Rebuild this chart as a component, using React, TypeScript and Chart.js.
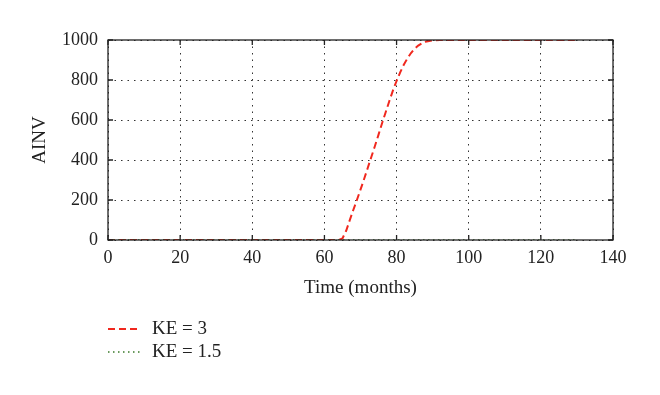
import React, { useEffect, useRef } from "react";
import { Chart, registerables } from "chart.js";

Chart.register(...registerables);

// Time axis (months) and AINV values for KE = 3
const timeKE3 = [0, 20, 40, 60, 64, 65, 66, 67, 68, 69, 70, 71, 72, 73, 74, 75, 76, 77, 78, 79, 80, 81, 82, 83, 84, 85, 86, 87, 88, 89, 90, 92, 100, 110, 120, 130];
const ainvKE3 = [0, 0, 0, 0, 0, 8, 45, 98, 150, 200, 252, 305, 360, 415, 470, 527, 585, 640, 695, 748, 795, 838, 876, 908, 935, 956, 972, 983, 991, 995, 998, 1000, 1000, 1000, 1000, 1000];

// AINV values for KE = 1.5
const timeKE15 = [0, 20, 40, 60, 80, 100, 120, 130];
const ainvKE15 = [0, 0, 0, 0, 0, 0, 0, 0];

const xTicks = [0, 20, 40, 60, 80, 100, 120, 140];
const yTicks = [0, 200, 400, 600, 800, 1000];

const seriesLabels = ["KE = 3", "KE = 1.5"];

const FONT = "'Liberation Serif', 'DejaVu Serif', serif";

const boxPlugin = {
  id: "boxAndTicks",
  afterDraw(chart: any) {
    const { ctx, chartArea: a, scales } = chart;
    ctx.save();
    ctx.strokeStyle = "#222";
    ctx.lineWidth = 1.3;
    ctx.setLineDash([]);
    ctx.strokeRect(a.left, a.top, a.right - a.left, a.bottom - a.top);
    const tl = 5;
    ctx.beginPath();
    xTicks.forEach((v) => {
      const x = scales.x.getPixelForValue(v);
      ctx.moveTo(x, a.bottom);
      ctx.lineTo(x, a.bottom - tl);
      ctx.moveTo(x, a.top);
      ctx.lineTo(x, a.top + tl);
    });
    yTicks.forEach((v) => {
      const y = scales.y.getPixelForValue(v);
      ctx.moveTo(a.left, y);
      ctx.lineTo(a.left + tl, y);
      ctx.moveTo(a.right, y);
      ctx.lineTo(a.right - tl, y);
    });
    ctx.stroke();

    // legend
    const lx = a.left;
    const rows = [329, 352];
    chart.data.datasets.forEach((ds: any, i: number) => {
      const y = rows[i];
      ctx.beginPath();
      ctx.strokeStyle = ds.borderColor;
      ctx.lineWidth = ds.borderWidth;
      ctx.setLineDash(ds.borderDash || []);
      ctx.moveTo(lx, y);
      ctx.lineTo(lx + 33, y);
      ctx.stroke();
      ctx.setLineDash([]);
      ctx.fillStyle = "#222";
      ctx.font = `19px ${FONT}`;
      ctx.textBaseline = "middle";
      ctx.textAlign = "left";
      ctx.fillText(ds.label, lx + 44, y);
    });
    ctx.restore();
  },
};

export default function App() {
  const ref = useRef<HTMLCanvasElement>(null);
  useEffect(() => {
    if (!ref.current) return;
    const chart = new Chart(ref.current, {
      type: "line",
      data: {
        datasets: [
          {
            label: seriesLabels[0],
            data: timeKE3.map((t, i) => ({ x: t, y: ainvKE3[i] })),
            borderColor: "#f0281e",
            borderWidth: 2,
            borderDash: [7, 4],
            pointRadius: 0,
            tension: 0,
            fill: false,
            order: 1,
          },
          {
            label: seriesLabels[1],
            data: timeKE15.map((t, i) => ({ x: t, y: ainvKE15[i] })),
            borderColor: "#3a7a2a",
            borderWidth: 1.5,
            borderDash: [1.5, 3.5],
            pointRadius: 0,
            tension: 0,
            fill: false,
            order: 0,
          },
        ],
      },
      options: {
        animation: false,
        responsive: false,
        maintainAspectRatio: false,
        layout: { padding: { left: 0, right: 47, top: 40, bottom: 95 } },
        plugins: { legend: { display: false }, tooltip: { enabled: false } },
        scales: {
          x: {
            type: "linear",
            min: 0,
            max: 140,
            afterFit: (s: any) => {
              s.height = 60;
            },
            afterBuildTicks: (s: any) => {
              s.ticks = xTicks.map((v) => ({ value: v }));
            },
            ticks: {
              padding: 7,
              color: "#222",
              font: { family: FONT, size: 18 },
              maxRotation: 0,
              callback: (v: any) => String(v),
            },
            grid: {
              drawTicks: false,
              color: "#333",
              lineWidth: 1,
            },
            border: { display: false, dash: [1.5, 5] },
            title: {
              display: true,
              text: "Time (months)",
              color: "#222",
              font: { family: FONT, size: 19 },
              padding: { top: 0, bottom: 1 },
            },
          },
          y: {
            type: "linear",
            min: 0,
            max: 1000,
            afterFit: (s: any) => {
              s.width = 108;
            },
            afterBuildTicks: (s: any) => {
              s.ticks = yTicks.map((v) => ({ value: v }));
            },
            ticks: {
              padding: 10,
              color: "#222",
              font: { family: FONT, size: 18 },
              callback: (v: any) => String(v),
            },
            grid: {
              drawTicks: false,
              color: "#333",
              lineWidth: 1,
            },
            border: { display: false, dash: [1.5, 5] },
            title: {
              display: true,
              text: "AINV",
              color: "#222",
              font: { family: FONT, size: 19 },
              padding: { top: 29, bottom: 0 },
            },
          },
        },
      },
      plugins: [boxPlugin],
    } as any);
    return () => chart.destroy();
  }, []);
  return (
    <div style={{ position: "fixed", left: 0, top: 0, width: 660, height: 395, background: "#fff" }}>
      <canvas ref={ref} width={660} height={395} style={{ width: 660, height: 395 }} />
    </div>
  );
}
